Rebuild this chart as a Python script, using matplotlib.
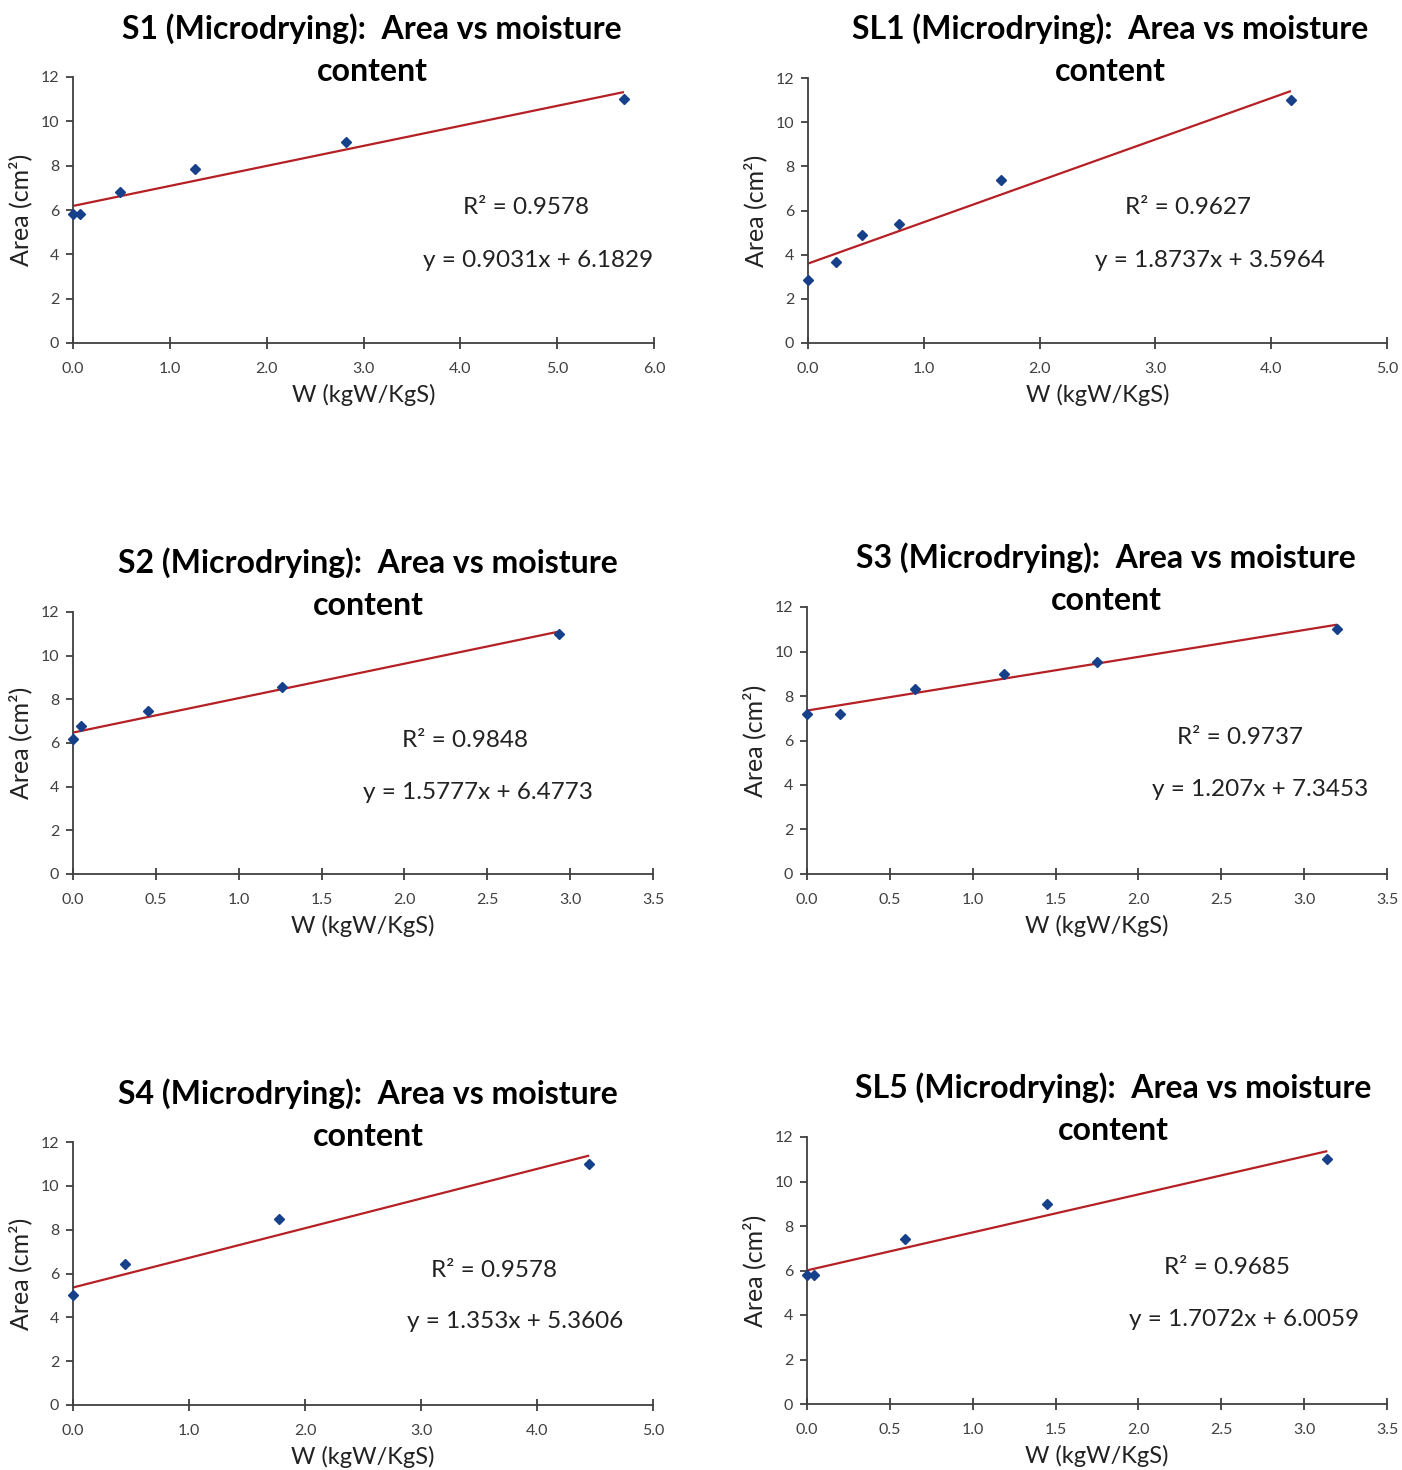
import matplotlib
matplotlib.use("Agg")
import matplotlib.pyplot as plt
import numpy as np

plt.rcParams['font.family'] = ['Lato', 'DejaVu Sans']

# Moisture content W (kgW/KgS) and sample area (cm²) for each sample
s1_w = [0.0, 0.07, 0.49, 1.26, 2.82, 5.69]
s1_area = [5.8, 5.8, 6.8, 7.85, 9.05, 11.0]

sl1_w = [0.0, 0.24, 0.47, 0.79, 1.67, 4.17]
sl1_area = [2.85, 3.65, 4.9, 5.4, 7.4, 11.0]

s2_w = [0.0, 0.05, 0.45, 1.26, 2.93]
s2_area = [6.2, 6.8, 7.45, 8.55, 11.0]

s3_w = [0.0, 0.2, 0.65, 1.19, 1.75, 3.2]
s3_area = [7.2, 7.2, 8.3, 9.0, 9.55, 11.0]

s4_w = [0.0, 0.45, 1.78, 4.45]
s4_area = [5.0, 6.45, 8.5, 11.0]

sl5_w = [0.0, 0.04, 0.59, 1.45, 3.14]
sl5_area = [5.8, 5.8, 7.4, 9.0, 11.0]

# Linear trendline coefficients (slope, intercept) and R²
names = ["S1", "SL1", "S2", "S3", "S4", "SL5"]
slopes = [0.9031, 1.8737, 1.5777, 1.207, 1.353, 1.7072]
intercepts = [6.1829, 3.5964, 6.4773, 7.3453, 5.3606, 6.0059]
r2_values = [0.9578, 0.9627, 0.9848, 0.9737, 0.9578, 0.9685]
slope_labels = ["0.9031", "1.8737", "1.5777", "1.207", "1.353", "1.7072"]
intercept_labels = ["6.1829", "3.5964", "6.4773", "7.3453", "5.3606", "6.0059"]

x_ticks = [
    [0.0, 1.0, 2.0, 3.0, 4.0, 5.0, 6.0],
    [0.0, 1.0, 2.0, 3.0, 4.0, 5.0],
    [0.0, 0.5, 1.0, 1.5, 2.0, 2.5, 3.0, 3.5],
    [0.0, 0.5, 1.0, 1.5, 2.0, 2.5, 3.0, 3.5],
    [0.0, 1.0, 2.0, 3.0, 4.0, 5.0],
    [0.0, 0.5, 1.0, 1.5, 2.0, 2.5, 3.0, 3.5],
]
y_ticks = [0, 2, 4, 6, 8, 10, 12]

series_w = [s1_w, sl1_w, s2_w, s3_w, s4_w, sl5_w]
series_area = [s1_area, sl1_area, s2_area, s3_area, s4_area, sl5_area]

W, H = 1402, 1470
fig = plt.figure(figsize=(W / 100, H / 100), dpi=100)

# axes boxes in pixels: left, right, top, bottom
boxes = [
    (73, 654, 77, 343),
    (808, 1387, 78, 343),
    (73, 653, 612, 874),
    (807, 1387, 607, 874),
    (73, 653, 1142, 1405),
    (807, 1387, 1137, 1404),
]
# title centre x and first-line baseline y (pixels)
title_pos = [(372, 39), (1110, 39), (368, 573), (1106, 568), (368, 1104), (1113, 1098)]
title_gap = 42
# annotation positions in axes fraction: (r2_x, r2_y, eq_x, eq_y)
text_pos = [
    (0.78, 0.51, 0.80, 0.31),
    (0.656, 0.51, 0.694, 0.31),
    (0.676, 0.51, 0.698, 0.31),
    (0.747, 0.51, 0.781, 0.315),
    (0.726, 0.51, 0.762, 0.316),
    (0.724, 0.51, 0.753, 0.315),
]

spine_col = "#404040"
tick_col = "#404040"
marker_col = "#17408B"
line_col = "#B52025"

for i in range(6):
    l, r, t, b = boxes[i]
    ax = fig.add_axes([l / W, 1 - b / H, (r - l) / W, (b - t) / H])
    w = np.array(series_w[i])
    a = np.array(series_area[i])

    xs = np.array([0.0, w.max()])
    ax.plot(xs, slopes[i] * xs + intercepts[i], color=line_col, lw=1.6, zorder=2,
            solid_capstyle="butt")
    ax.plot(w, a, linestyle="none", marker="D", ms=5, color=marker_col,
            markeredgecolor=marker_col, zorder=3, clip_on=False)

    ax.set_xlim(x_ticks[i][0], x_ticks[i][-1])
    ax.set_ylim(0, 12)
    ax.set_xticks(x_ticks[i])
    ax.set_xticklabels([f"{v:.1f}" for v in x_ticks[i]])
    ax.set_yticks(y_ticks)
    for s in ["top", "right"]:
        ax.spines[s].set_visible(False)
    for s in ["left", "bottom"]:
        ax.spines[s].set_color(spine_col)
        ax.spines[s].set_linewidth(1.3)
    ax.tick_params(axis="x", direction="inout", length=9, width=1.3, color=spine_col,
                   labelsize=11.5, labelcolor=tick_col, pad=9)
    ax.tick_params(axis="y", direction="out", length=5, width=1.3, color=spine_col,
                   labelsize=11.5, labelcolor=tick_col, pad=5)

    ax.set_xlabel("W (kgW/KgS)", fontsize=17, color="#222222", labelpad=6)
    ax.set_ylabel("Area (cm²)", fontsize=18, color="#222222", labelpad=6)

    tx, ty = title_pos[i]
    fig.text(tx / W, 1 - ty / H, f"{names[i]} (Microdrying):  Area vs moisture",
             ha="center", va="baseline", fontsize=23, fontweight="bold",
             color="black")
    fig.text(tx / W, 1 - (ty + title_gap) / H, "content",
             ha="center", va="baseline", fontsize=23, fontweight="bold",
             color="black")

    rx, ry, ex, ey = text_pos[i]
    ax.text(rx, ry, f"R² = {r2_values[i]:.4f}", transform=ax.transAxes,
            ha="center", va="center", fontsize=17.5, color="#222222")
    ax.text(ex, ey, f"y = {slope_labels[i]}x + {intercept_labels[i]}",
            transform=ax.transAxes, ha="center", va="center", fontsize=17.5,
            color="#222222")

fig.savefig("out.png", dpi=100, facecolor="white")
